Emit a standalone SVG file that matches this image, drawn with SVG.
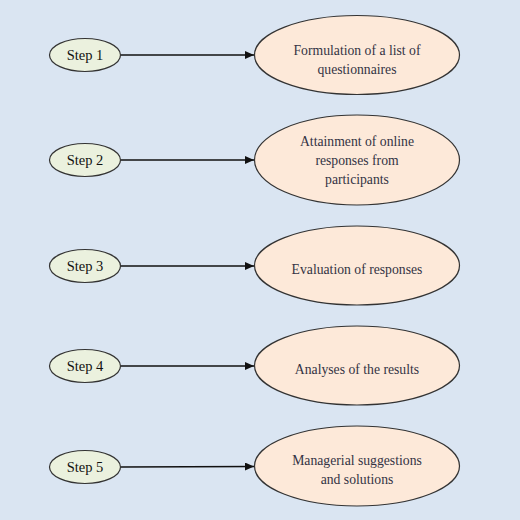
<svg xmlns="http://www.w3.org/2000/svg" width="520" height="520" viewBox="0 0 520 520">
<defs>
<marker id="ah" markerWidth="9" markerHeight="8" refX="9" refY="4" orient="auto" markerUnits="userSpaceOnUse">
<path d="M0,0 L9,4 L0,8 Z" fill="#111"/>
</marker>
<style>
.step{fill:#ebf1de;stroke:#333;stroke-width:1.2}
.big{fill:#fde9d9;stroke:#333;stroke-width:1.2}
.st{font-family:"Liberation Serif","Times New Roman",serif;font-size:14.5px;fill:#111;text-anchor:middle}
.bt{font-family:"Liberation Serif","Times New Roman",serif;font-size:13.7px;fill:#333344;text-anchor:middle}
.cn{stroke:#111;stroke-width:1.3;fill:none}
</style>
</defs>
<rect x="0" y="0" width="520" height="520" fill="#dae5f2"/>
<g id="connectors">
<line class="cn" x1="121" y1="55" x2="254" y2="55" marker-end="url(#ah)"/>
<line class="cn" x1="121" y1="160" x2="254" y2="160" marker-end="url(#ah)"/>
<line class="cn" x1="121" y1="266" x2="254" y2="266" marker-end="url(#ah)"/>
<line class="cn" x1="121" y1="366" x2="254" y2="366" marker-end="url(#ah)"/>
<line class="cn" x1="121" y1="467" x2="254" y2="466.5" marker-end="url(#ah)"/>
</g>
<g id="step1"><ellipse class="step" cx="85" cy="55" rx="35.5" ry="16.5"/><text class="st" x="85" y="60">Step 1</text></g>
<g id="step2"><ellipse class="step" cx="85" cy="160" rx="35.5" ry="16.5"/><text class="st" x="85" y="165">Step 2</text></g>
<g id="step3"><ellipse class="step" cx="85" cy="266" rx="35.5" ry="16.5"/><text class="st" x="85" y="271">Step 3</text></g>
<g id="step4"><ellipse class="step" cx="85" cy="366" rx="35.5" ry="16.5"/><text class="st" x="85" y="371">Step 4</text></g>
<g id="step5"><ellipse class="step" cx="85" cy="467" rx="35.5" ry="16.5"/><text class="st" x="85" y="472">Step 5</text></g>
<g id="task1"><ellipse class="big" cx="357" cy="55" rx="102.5" ry="39.5"/><text class="bt" x="357" y="55">Formulation of a list of</text><text class="bt" x="357" y="74">questionnaires</text></g>
<g id="task2"><ellipse class="big" cx="357" cy="160" rx="102.5" ry="45"/><text class="bt" x="357" y="146">Attainment of online</text><text class="bt" x="357" y="165">responses from</text><text class="bt" x="357" y="184">participants</text></g>
<g id="task3"><ellipse class="big" cx="357" cy="265.5" rx="102.5" ry="39.5"/><text class="bt" x="357" y="274">Evaluation of responses</text></g>
<g id="task4"><ellipse class="big" cx="357" cy="365.5" rx="102.5" ry="39.5"/><text class="bt" x="357" y="374">Analyses of the results</text></g>
<g id="task5"><ellipse class="big" cx="357" cy="466" rx="102.5" ry="40"/><text class="bt" x="357" y="465">Managerial suggestions</text><text class="bt" x="357" y="484">and solutions</text></g>
</svg>
